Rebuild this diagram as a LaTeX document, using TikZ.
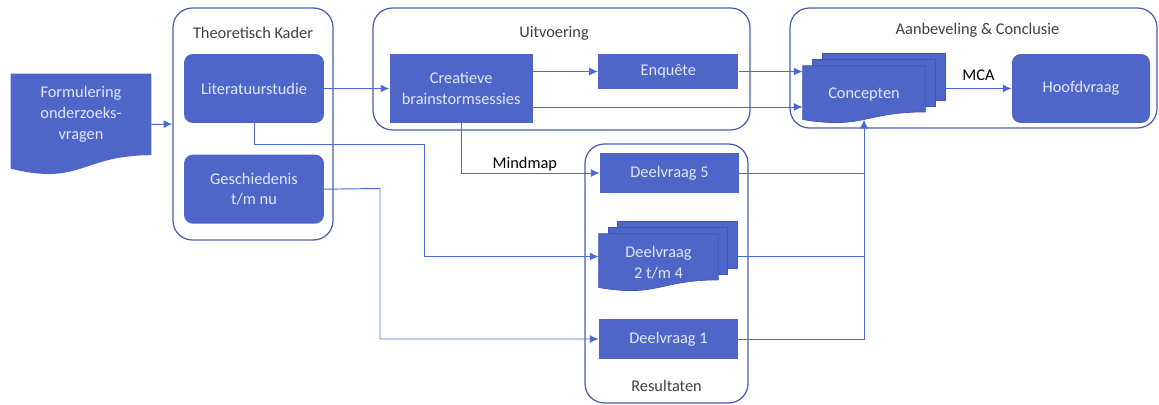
\documentclass[tikz,border=0pt]{standalone}
\usepackage{fontspec}
\setmainfont{Carlito}
\usetikzlibrary{positioning}
\usetikzlibrary{arrows.meta}
\usetikzlibrary{calc}
\usetikzlibrary{backgrounds}

\definecolor{boxblue}{HTML}{4F66C9}
\definecolor{pageedge}{HTML}{3F56B4}
\definecolor{lineblue}{HTML}{4A6BD6}
\definecolor{groupblue}{HTML}{4A5DAE}
\definecolor{boxtext}{HTML}{E3E7F7}
\definecolor{titlegray}{HTML}{404040}

\tikzset{
    font=\fontsize{9.3}{11.9}\selectfont,
    node distance=1.3cm,
    block/.style={
        fill=boxblue,
        text=boxtext,
        align=center,
        inner sep=2pt,
        minimum width=2.8cm,
        minimum height=1.38cm
    },
    roundblock/.style={
        block,
        rounded corners=5pt
    },
    docnode/.style={
        text=boxtext,
        align=center,
        inner sep=0pt
    },
    page/.style={
        fill=boxblue,
        draw=pageedge,
        line width=0.4pt
    },
    group/.style={
        draw=groupblue,
        line width=0.7pt,
        rounded corners=11pt
    },
    grouptitle/.style={
        text=titlegray
    },
    flow/.style={
        draw=lineblue,
        line width=0.55pt,
        -{Latex[length=5pt,width=4.5pt]}
    },
    link/.style={
        draw=lineblue,
        line width=0.55pt
    }
}

% document shape (wavy bottom) drawn over a named node
\newcommand{\docpath}[1]{%
    (#1.north west) -- (#1.north east)
    -- ($(#1.north east)!0.802!(#1.south east)$)
    .. controls ($(#1.north)!0.802!(#1.south)$) and ($(#1.north)!1.107!(#1.south)$)
    .. ($(#1.north west)!0.934!(#1.south west)$) -- cycle}
% one page behind a stacked document, shifted by #2
\newcommand{\backpage}[2]{%
    \filldraw[page] ($(#1.north west)+#2$) rectangle ($(#1.north east)!0.802!(#1.south east)+#2$);}

\begin{document}
\begin{tikzpicture}[x=0.02cm, y=-0.02cm]
    \useasboundingbox (0,0) rectangle (1159,405);

    % groups
    \node[group, minimum width=3.2cm, minimum height=4.64cm] (theo) at (253,124) {};
    \node[group, minimum width=7.54cm, minimum height=2.44cm] (uitv) at (561.5,69) {};
    \node[group, minimum width=7.34cm, minimum height=2.4cm] (aanb) at (973.5,68) {};
    \node[group, minimum width=3.26cm, minimum height=5.18cm] (resu) at (666.5,273.5) {};
    \node[grouptitle] (theotitle) at ([yshift=-0.5cm]theo.north) {Theoretisch Kader};
    \node[grouptitle] (uitvtitle) at ([xshift=-0.15cm, yshift=-0.52cm]uitv.north) {Uitvoering};
    \node[grouptitle] (aanbtitle) at ([xshift=0.08cm, yshift=-0.46cm]aanb.north) {Aanbeveling \& Conclusie};
    \node[grouptitle] (resutitle) at ([yshift=0.36cm]resu.south) {Resultaten};

    % blocks
    \node[minimum width=2.8cm, minimum height=2.02cm, inner sep=0pt,
        label={[docnode, yshift=0.2cm]center:Formulering\\onderzoeks-\\vragen}] (form) at (81,124.5) {};
    \node[roundblock] (lit) at (254,88.5) {Literatuurstudie};
    \node[roundblock, below=0.62cm of lit] (ges) {Geschiedenis\\t/m nu};
    \node[block, right=of lit, minimum width=2.86cm] (crea) {Creatieve\\brainstormsessies};
    \node[block, right=of crea.north east, anchor=north west, minimum height=0.7cm] (enq) {Enquête};
    \node[docnode, minimum width=2.44cm, minimum height=1.14cm] (conc) at (864,94.5) {Concepten};
    \node[roundblock, minimum width=2.76cm] (hoof) at (1081,88.5) {Hoofdvraag};
    \node[block, minimum width=2.78cm, minimum height=0.8cm] (d5) at (669.5,173) {Deelvraag 5};
    \node[docnode, minimum width=2.38cm, minimum height=1.14cm] (d24) at (658.5,262.5) {Deelvraag\\2 t/m 4};
    \node[block, minimum width=2.78cm, minimum height=0.8cm] (d1) at (668.5,339) {Deelvraag 1};

    \begin{pgfonlayer}{background}
        \fill[boxblue] \docpath{form};
        \backpage{conc}{(20,-12)}
        \backpage{conc}{(10,-6)}
        \filldraw[page] \docpath{conc};
        \backpage{d24}{(19,-12)}
        \backpage{d24}{(9.5,-6)}
        \filldraw[page] \docpath{d24};
    \end{pgfonlayer}

    % connectors
    \coordinate (bendA) at (424,144);
    \coordinate (bendB) at (380,188.5);
    \draw[flow] (form.east) -- (theo.west);
    \draw[flow] (lit) -- (crea);
    \draw[flow] (crea.east |- enq.west) -- (enq.west);
    \draw[flow] (enq.east) -- (enq.east -| conc.west);
    \draw[flow] ([yshift=-0.37cm]crea.east) coordinate (c1) -- (c1 -| conc.west);
    \draw[flow] ([xshift=0.4cm]conc.east |- hoof.west) -- node[above=1pt, text=black] {MCA} (hoof.west);
    \draw[flow] (crea.south) |- node[pos=0.73, above, inner sep=1pt, text=black] {Mindmap} (d5.west);
    \draw[flow] (lit.south) |- (bendA) |- ([yshift=0.12cm]d24.west);
    \draw[flow] (ges.east) -- (bendB) |- (d1.west);
    \draw[link] (d5.east) -- (d5.east -| conc.south);
    \draw[link] ([xshift=0.38cm, yshift=0.12cm]d24.east) coordinate (c2) -- (c2 -| conc.south);
    \draw[flow] (d1.east) -| ($(conc.north)!0.933!(conc.south)$);
\end{tikzpicture}
\end{document}
